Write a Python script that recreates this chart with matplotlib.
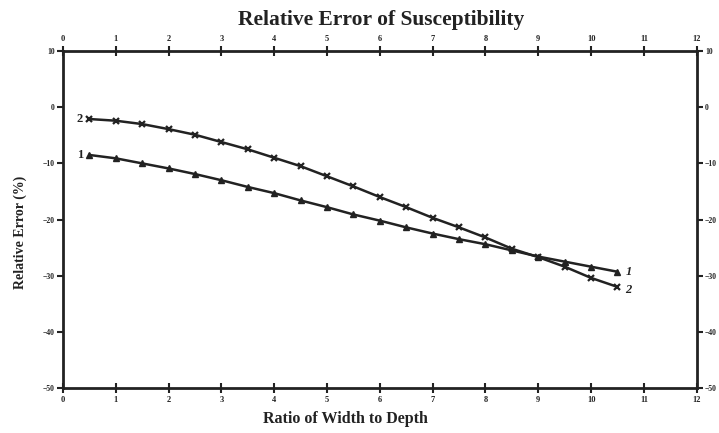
import matplotlib
matplotlib.use("Agg")
import matplotlib.pyplot as plt

# ratio of width to depth
ratio = [0.5, 1.0, 1.5, 2.0, 2.5, 3.0, 3.5, 4.0, 4.5, 5.0, 5.5,
         6.0, 6.5, 7.0, 7.5, 8.0, 8.5, 9.0, 9.5, 10.0, 10.5]

# relative error (%)
err1 = [-8.5, -9.1, -10.0, -10.9, -11.9, -13.0, -14.2, -15.3, -16.6, -17.8, -19.1,
        -20.2, -21.4, -22.5, -23.5, -24.4, -25.5, -26.6, -27.5, -28.4, -29.3]
err2 = [-2.1, -2.4, -3.0, -3.9, -4.9, -6.2, -7.5, -9.0, -10.5, -12.3, -14.1,
        -16.0, -17.8, -19.7, -21.4, -23.2, -25.2, -26.7, -28.4, -30.4, -32.0]

xticks = list(range(0, 13))
yticks = [10, 0, -10, -20, -30, -40, -50]

plt.rcParams['font.family'] = ['Liberation Serif', 'DejaVu Serif']
plt.rcParams['font.weight'] = 'bold'

fig = plt.figure(figsize=(7.19, 4.33), dpi=100)
ax = fig.add_axes([0.0876, 0.104, 0.8814, 0.778])

ink = '#222222'
ax.plot(ratio, err1, color=ink, lw=1.8, marker='^', ms=4.5, mfc=ink, mec=ink)
ax.plot(ratio, err2, color=ink, lw=1.8, marker='x', ms=5, mew=1.6, mec=ink)

# curve numbers at both ends
ax.text(ratio[0] - 0.12, err1[0], '1', ha='right', va='center', fontsize=9, color=ink)
ax.text(ratio[0] - 0.12, err2[0], '2', ha='right', va='center', fontsize=9, color=ink)
ax.text(ratio[-1] + 0.15, err1[-1], '1', ha='left', va='center', fontsize=9,
        style='italic', color=ink)
ax.text(ratio[-1] + 0.15, err2[-1] - 0.5, '2', ha='left', va='center', fontsize=9,
        style='italic', color=ink)

ax.set_xlim(0, 12)
ax.set_ylim(-50, 10)
ax.set_xticks(xticks)
ax.set_yticks(yticks)

for s in ax.spines.values():
    s.set_linewidth(2)
    s.set_color(ink)

ax.tick_params(axis='x', which='both', direction='inout', length=7, width=1.5,
               top=True, labeltop=True, labelsize=6, pad=2, colors=ink)
ax.tick_params(axis='y', which='both', direction='out', length=4, width=1.5,
               right=True, labelright=True, labelsize=5.5, pad=2, colors=ink)

fig.text(0.53, 1 - 20 / 433, 'Relative Error of Susceptibility', ha='center',
         va='center', fontsize=15.5, fontweight='bold', color=ink)
ax.set_xlabel('Ratio of Width to Depth', fontsize=11.5, fontweight='bold', color=ink)
ax.xaxis.set_label_coords(0.446, -0.068)
ax.set_ylabel('Relative Error (%)', fontsize=10, fontweight='bold', color=ink)
ax.yaxis.set_label_coords(-0.056, 0.463)

fig.savefig('out.png', dpi=100)
